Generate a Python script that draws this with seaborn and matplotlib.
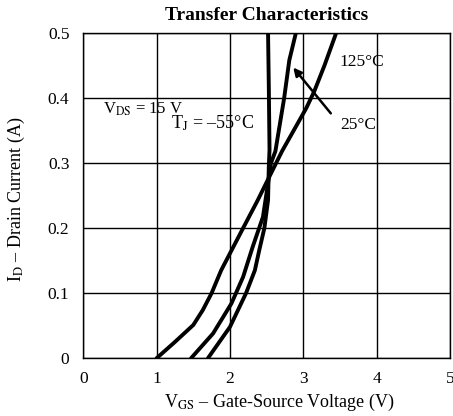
import matplotlib
matplotlib.use("Agg")
import matplotlib.pyplot as plt
import seaborn as sns
import pandas as pd

vgs_125 = [1.00, 1.25, 1.50, 1.63, 1.75, 1.88, 2.00, 2.18, 2.38, 2.56, 2.71, 2.86, 3.04, 3.15, 3.29, 3.45]
id_125 = [0.000, 0.025, 0.051, 0.074, 0.100, 0.135, 0.161, 0.200, 0.243, 0.284, 0.318, 0.348, 0.384, 0.410, 0.450, 0.500]

vgs_25 = [1.47, 1.77, 2.02, 2.18, 2.31, 2.45, 2.52, 2.56, 2.62, 2.74, 2.81, 2.90]
id_25 = [0.000, 0.038, 0.084, 0.125, 0.171, 0.217, 0.269, 0.300, 0.318, 0.400, 0.458, 0.500]

vgs_m55 = [1.70, 2.00, 2.22, 2.34, 2.40, 2.47, 2.52, 2.53, 2.54, 2.53, 2.52]
id_m55 = [0.000, 0.048, 0.100, 0.135, 0.166, 0.200, 0.243, 0.294, 0.320, 0.420, 0.500]

x_ticks = [0, 1, 2, 3, 4, 5]
y_ticks = [0, 0.1, 0.2, 0.3, 0.4, 0.5]
y_tick_labels = ["0", "0.1", "0.2", "0.3", "0.4", "0.5"]

rows = []
for name, xs, ys in [("125", vgs_125, id_125), ("25", vgs_25, id_25), ("-55", vgs_m55, id_m55)]:
    for i, (a, b) in enumerate(zip(xs, ys)):
        rows.append({"temp": name, "order": i, "vgs": a, "id": b})
df = pd.DataFrame(rows)

sns.set_style("white")
plt.rcParams["font.family"] = ["Liberation Serif", "DejaVu Serif"]
plt.rcParams["mathtext.fontset"] = "stix"
plt.rcParams["text.color"] = "black"
plt.rcParams["axes.labelcolor"] = "black"

fig = plt.figure(figsize=(4.53, 4.16), dpi=100)
ax = fig.add_axes([0.184, 0.139, 0.809, 0.782])

sns.lineplot(data=df, x="vgs", y="id", units="temp", estimator=None, sort=False,
             color="black", linewidth=2.8, ax=ax)

ax.set_xlim(0, 5)
ax.set_ylim(0, 0.5)
ax.set_xticks(x_ticks)
ax.set_yticks(y_ticks)
ax.set_yticklabels(y_tick_labels)
ax.tick_params(length=0, labelsize=12.5, colors="black")
ax.tick_params(axis="y", pad=10)
ax.tick_params(axis="x", pad=9)
ax.grid(True, color="black", linewidth=1.0)
ax.set_axisbelow(True)
for s in ax.spines.values():
    s.set_color("black")
    s.set_linewidth(1.0)

ax.set_title("Transfer Characteristics", fontsize=14, fontweight="bold", pad=9)
ax.set_xlabel(r"V$_{\rm GS}$ – Gate-Source Voltage (V)", fontsize=13)
ax.set_ylabel(r"I$_{\rm D}$ – Drain Current (A)", fontsize=13)
ax.xaxis.set_label_coords(0.533, -0.105)
ax.yaxis.set_label_coords(-0.154, 0.489)

ax.text(0.27, 0.383, r"V$_{\rm DS}$ = 15 V", fontsize=12, va="center")
ax.text(1.20, 0.361, r"T$_{\rm J}$ = –55°C", fontsize=13, va="center")
ax.text(3.49, 0.455, "125°C", fontsize=12.5, va="center")
ax.text(3.50, 0.358, "25°C", fontsize=12.5, va="center")
ax.annotate("", xy=(2.84, 0.45), xytext=(3.40, 0.373),
            arrowprops=dict(arrowstyle="-|>", color="black", lw=1.8, mutation_scale=12))

fig.savefig("out.png", dpi=100)
